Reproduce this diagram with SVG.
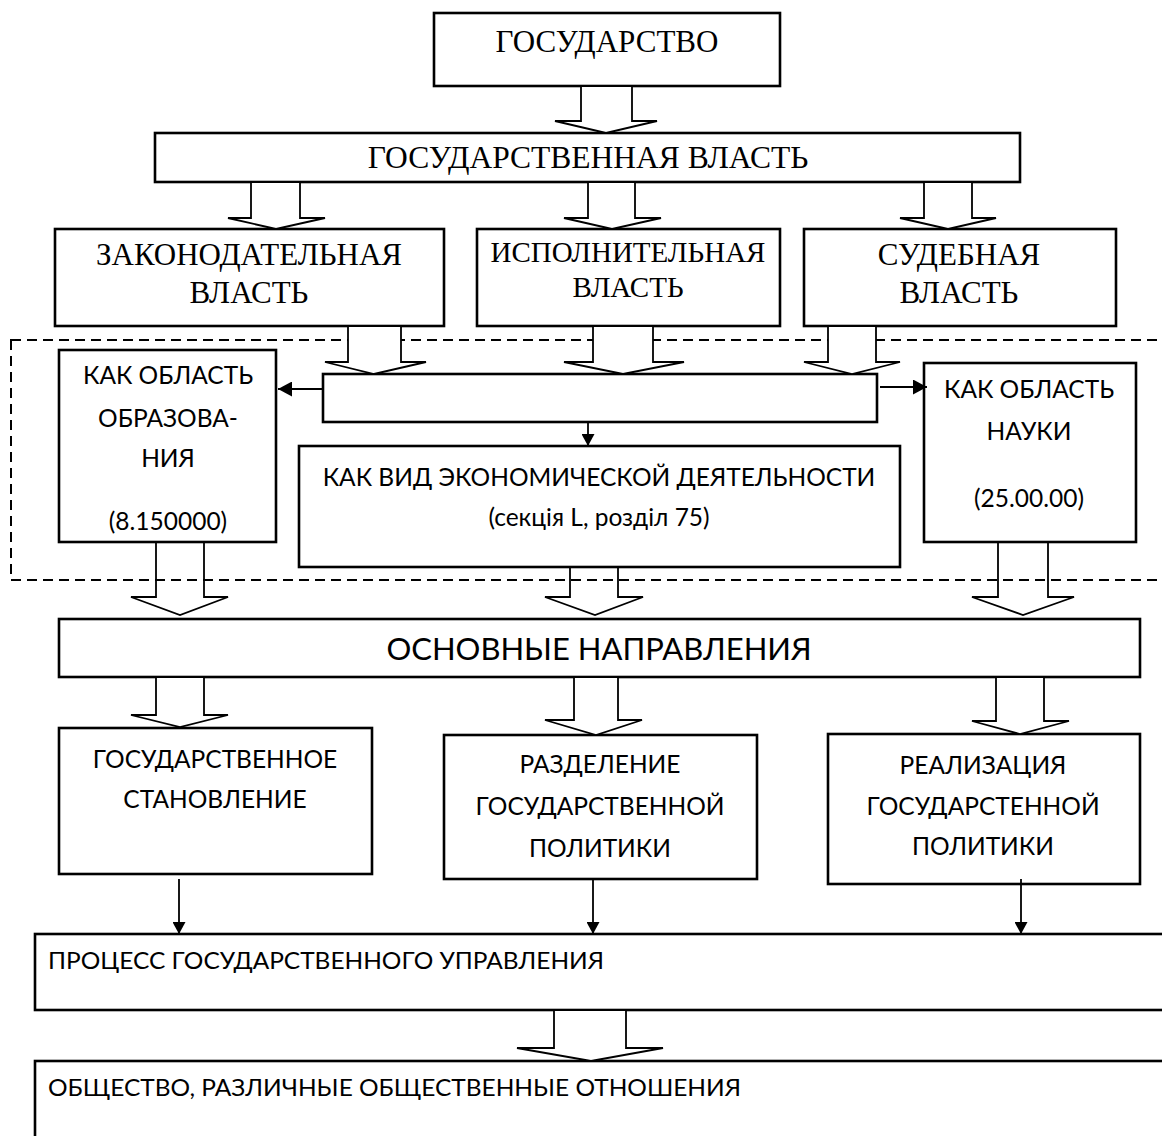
<svg xmlns="http://www.w3.org/2000/svg" width="1162" height="1136" viewBox="0 0 1162 1136">
<style>
.box{fill:#fff;stroke:#000;stroke-width:2.6}
.ba{fill:#fff;stroke:#000;stroke-width:1.8;stroke-linejoin:miter}
.ban{fill:none;stroke:#000;stroke-width:1.8}
.ln{stroke:#000;stroke-width:1.8;fill:none}
.dash{fill:none;stroke:#000;stroke-width:2;stroke-dasharray:10 6}
.serif{font-family:"Liberation Serif","Times New Roman",serif;fill:#000;text-anchor:middle}
.sans{font-family:Lato,"Open Sans",sans-serif;fill:#000;text-anchor:middle}
.sl{font-family:Lato,"Open Sans",sans-serif;fill:#000}
</style>
<defs>
<marker id="ah" markerWidth="12" markerHeight="13" refX="12" refY="6.5" orient="auto" markerUnits="userSpaceOnUse" viewBox="0 0 12 13">
<path d="M0,0 L12,6.5 L0,13 Z" fill="#000"/>
</marker>
<marker id="ahb" markerWidth="14" markerHeight="15" refX="14" refY="7.5" orient="auto" markerUnits="userSpaceOnUse" viewBox="0 0 14 15">
<path d="M0,0 L14,7.5 L0,15 Z" fill="#000"/>
</marker>
</defs>

<rect class="dash" x="11" y="340" width="1165" height="240"/>

<g id="n-gosudarstvo">
<rect class="box" x="434" y="13" width="346" height="73"/>
<text class="serif" x="607" y="52" font-size="31">ГОСУДАРСТВО</text>
</g>
<g id="n-gosvlast">
<rect class="box" x="155" y="133" width="865" height="49"/>
<text class="serif" x="588" y="168" font-size="31.5">ГОСУДАРСТВЕННАЯ ВЛАСТЬ</text>
</g>
<g id="n-zakon">
<rect class="box" x="55" y="229" width="389" height="97"/>
<text class="serif" x="249" y="265" font-size="31">ЗАКОНОДАТЕЛЬНАЯ</text>
<text class="serif" x="249" y="303" font-size="31">ВЛАСТЬ</text>
</g>
<g id="n-ispoln">
<rect class="box" x="477" y="229" width="303" height="97"/>
<text class="serif" x="628" y="262" font-size="29">ИСПОЛНИТЕЛЬНАЯ</text>
<text class="serif" x="628" y="297" font-size="29">ВЛАСТЬ</text>
</g>
<g id="n-sud">
<rect class="box" x="804" y="229" width="312" height="97"/>
<text class="serif" x="959" y="265" font-size="31">СУДЕБНАЯ</text>
<text class="serif" x="959" y="303" font-size="31">ВЛАСТЬ</text>
</g>
<g id="n-empty">
<rect class="box" x="323" y="374" width="554" height="48"/>
</g>
<g id="n-obrazov">
<rect class="box" x="59" y="350" width="217" height="192"/>
<text class="sans" x="168" y="384" font-size="24.5">КАК ОБЛАСТЬ</text>
<text class="sans" x="168" y="427" font-size="24.5">ОБРАЗОВА-</text>
<text class="sans" x="168" y="467" font-size="24.5">НИЯ</text>
<text class="sans" x="168" y="530" font-size="24.5">(8.150000)</text>
</g>
<g id="n-econ">
<rect class="box" x="299" y="446" width="601" height="121"/>
<text class="sans" x="599" y="486" font-size="24.5">КАК ВИД ЭКОНОМИЧЕСКОЙ ДЕЯТЕЛЬНОСТИ</text>
<text class="sans" x="599" y="526" font-size="24.5">(секція L, розділ 75)</text>
</g>
<g id="n-nauka">
<rect class="box" x="924" y="363" width="212" height="179"/>
<text class="sans" x="1029" y="398" font-size="24.5">КАК ОБЛАСТЬ</text>
<text class="sans" x="1029" y="440" font-size="24.5">НАУКИ</text>
<text class="sans" x="1029" y="507" font-size="24.5">(25.00.00)</text>
</g>
<g id="n-osnov">
<rect class="box" x="59" y="619" width="1081" height="58"/>
<text class="sans" x="599" y="660" font-size="31">ОСНОВНЫЕ НАПРАВЛЕНИЯ</text>
</g>
<g id="n-stanov">
<rect class="box" x="59" y="728" width="313" height="146"/>
<text class="sans" x="215" y="768" font-size="24.5">ГОСУДАРСТВЕННОЕ</text>
<text class="sans" x="215" y="808" font-size="24.5">СТАНОВЛЕНИЕ</text>
</g>
<g id="n-razdel">
<rect class="box" x="444" y="735" width="313" height="144"/>
<text class="sans" x="600" y="773" font-size="24.5">РАЗДЕЛЕНИЕ</text>
<text class="sans" x="600" y="815" font-size="24.5">ГОСУДАРСТВЕННОЙ</text>
<text class="sans" x="600" y="857" font-size="24.5">ПОЛИТИКИ</text>
</g>
<g id="n-realiz">
<rect class="box" x="828" y="734" width="312" height="150"/>
<text class="sans" x="983" y="774" font-size="24.5">РЕАЛИЗАЦИЯ</text>
<text class="sans" x="983" y="815" font-size="24.5">ГОСУДАРСТЕННОЙ</text>
<text class="sans" x="983" y="855" font-size="24.5">ПОЛИТИКИ</text>
</g>
<g id="n-process">
<rect class="box" x="35" y="934" width="1141" height="76"/>
<text class="sl" x="48" y="969" font-size="24" textLength="556" lengthAdjust="spacingAndGlyphs">ПРОЦЕСС ГОСУДАРСТВЕННОГО УПРАВЛЕНИЯ</text>
</g>
<g id="n-obshchestvo">
<rect class="box" x="35" y="1061" width="1141" height="90"/>
<text class="sl" x="48" y="1096" font-size="24" textLength="693" lengthAdjust="spacingAndGlyphs">ОБЩЕСТВО, РАЗЛИЧНЫЕ ОБЩЕСТВЕННЫЕ ОТНОШЕНИЯ</text>
</g>

<g id="connectors">
<polygon class="ba" points="581,86 581,121 555,121 606,133 657,121 632,121 632,86"/>
<polygon class="ba" points="251,182 251,218 228,218 276,229 325,218 300,218 300,182"/>
<polygon class="ba" points="588,182 588,218 564,218 612,229 661,218 635,218 635,182"/>
<polygon class="ba" points="924,182 924,218 900,218 948,229 996,218 972,218 972,182"/>
<polygon class="ba" points="348,326 348,362 325,362 374,374 426,362 401,362 401,326"/>
<polygon class="ba" points="593,326 593,362 564,362 623,374 684,362 653,362 653,326"/>
<polygon class="ba" points="828,326 828,362 804,362 852,374 900,362 876,362 876,326"/>
<polyline class="ban" points="156,542 156,597 131,597 180,615 228,597 204,597 204,542"/>
<polyline class="ban" points="570,567 570,597 545,597 595,615 643,597 618,597 618,567"/>
<polyline class="ban" points="998,542 998,597 972,597 1023,615 1074,597 1048,597 1048,542"/>
<polygon class="ba" points="156,677 156,715 131,715 180,727 228,715 204,715 204,677"/>
<polygon class="ba" points="574,677 574,720 545,720 596,735 642,720 618,720 618,677"/>
<polygon class="ba" points="996,677 996,721 972,721 1020,734 1069,721 1044,721 1044,677"/>
<polygon class="ba" points="554,1010 554,1048 517,1048 591,1061 663,1048 626,1048 626,1010"/>
<line class="ln" x1="323" y1="389" x2="278" y2="389" marker-end="url(#ahb)"/>
<line class="ln" x1="880" y1="387" x2="927" y2="387" marker-end="url(#ahb)"/>
<line class="ln" x1="588" y1="422" x2="588" y2="446" marker-end="url(#ah)"/>
<line class="ln" x1="179" y1="879" x2="179" y2="934" marker-end="url(#ah)"/>
<line class="ln" x1="593" y1="879" x2="593" y2="934" marker-end="url(#ah)"/>
<line class="ln" x1="1021" y1="879" x2="1021" y2="934" marker-end="url(#ah)"/>
</g>
</svg>
